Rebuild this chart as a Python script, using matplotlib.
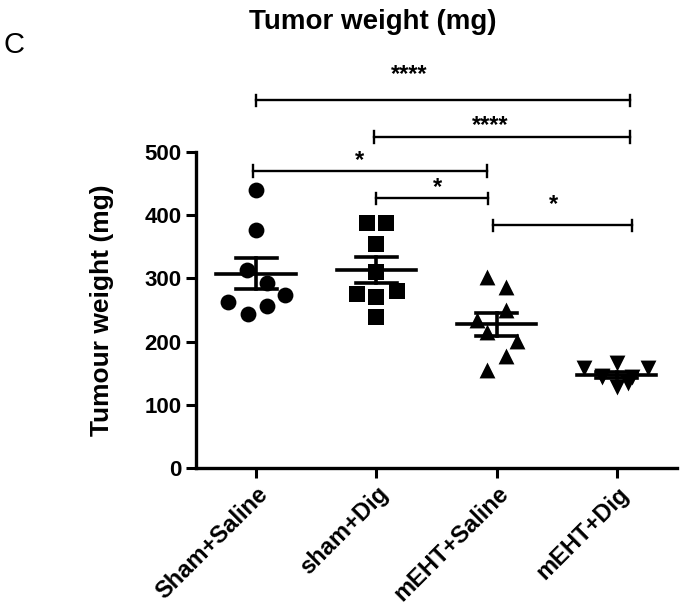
import numpy as np
import matplotlib
matplotlib.use("Agg")
import matplotlib.pyplot as plt
from matplotlib import font_manager

names = set(f.name for f in font_manager.fontManager.ttflist)
print('Liberation Sans Narrow' in names, sorted(n for n in names if 'Liberation' in n or 'Roboto' in n))

plt.rcParams['font.family'] = ['Liberation Sans', 'DejaVu Sans']
plt.rcParams['font.weight'] = 'bold'

groups = ['Sham+Saline', 'sham+Dig', 'mEHT+Saline', 'mEHT+Dig']
markers = ['o', 's', '^', 'v']

# tumour weights (mg) per animal
sham_saline = [440, 377, 313, 293, 263, 274, 244, 256]
sham_dig = [388, 388, 354, 310, 275, 271, 280, 239]
meht_saline = [302, 286, 250, 234, 215, 201, 177, 155]
meht_dig = [158, 166, 158, 144, 128, 134, 144, 145]

# horizontal scatter of the points within each group
jit_1 = [0.0, 0.0, -0.08, 0.09, -0.23, 0.24, -0.07, 0.09]
jit_2 = [-0.08, 0.08, 0.0, 0.0, -0.16, 0.0, 0.17, 0.0]
jit_3 = [-0.08, 0.08, 0.08, -0.16, -0.08, 0.17, 0.08, -0.08]
jit_4 = [-0.27, 0.0, 0.26, -0.12, 0.0, 0.09, 0.13, -0.12]

# significance brackets: (x0, x1, y, label)
brackets = [(0.0, 3.11, 582, '****'),
            (0.98, 3.11, 524, '****'),
            (-0.03, 1.92, 470, '*'),
            (1.0, 1.93, 427, '*'),
            (1.97, 3.13, 384, '*')]
star_pos = [(1.275, 612), (1.95, 532), (0.86, 476), (1.51, 434), (2.47, 407)]

data = [sham_saline, sham_dig, meht_saline, meht_dig]
jits = [jit_1, jit_2, jit_3, jit_4]

fig = plt.figure(figsize=(6.83, 6.06), dpi=100)
ax = fig.add_axes([0.287, 0.228, 0.704, 0.521])

for i in range(4):
	vals = np.array(data[i], dtype=float)
	xs = i + np.array(jits[i])
	ax.scatter(xs, vals, s=130, marker=markers[i], color='black', zorder=3, linewidths=0)
	m = vals.mean()
	sem = vals.std(ddof=1) / np.sqrt(len(vals))
	ax.plot([i - 0.33, i + 0.33], [m, m], color='black', lw=2.6, zorder=4)
	ax.plot([i - 0.17, i + 0.17], [m + sem, m + sem], color='black', lw=2.6, zorder=4)
	ax.plot([i - 0.17, i + 0.17], [m - sem, m - sem], color='black', lw=2.6, zorder=4)
	ax.plot([i, i], [m - sem, m + sem], color='black', lw=2.6, zorder=4)

for (x0, x1, y, lab), (tx, ty) in zip(brackets, star_pos):
	ax.plot([x0, x1], [y, y], color='black', lw=1.7, clip_on=False)
	ax.plot([x0, x0], [y - 9, y + 9], color='black', lw=1.7, clip_on=False)
	ax.plot([x1, x1], [y - 9, y + 9], color='black', lw=1.7, clip_on=False)
	ax.text(tx, ty, lab, ha='center', va='baseline', fontsize=17, fontweight='bold', clip_on=False)

ax.set_xlim(-0.5, 3.5)
ax.set_ylim(0, 500)
ax.set_yticks([0, 100, 200, 300, 400, 500])
ax.set_xticks(range(4))
ax.set_xticklabels(groups, rotation=45, ha='right', rotation_mode='anchor', fontsize=17, fontweight='bold')
ax.tick_params(axis='y', labelsize=16, width=2.2, length=7)
ax.tick_params(axis='x', width=2.2, length=7)
for lab in ax.get_yticklabels():
	lab.set_fontweight('bold')
ax.spines['top'].set_visible(False)
ax.spines['right'].set_visible(False)
ax.spines['left'].set_linewidth(2.4)
ax.spines['bottom'].set_linewidth(2.4)
ax.set_ylabel('Tumour weight (mg)', fontsize=19, fontweight='bold', labelpad=22)

fig.text(0.546, 0.964, 'Tumor weight (mg)', ha='center', va='center', fontsize=20, fontweight='bold')
fig.text(0.021, 0.925, 'C', ha='center', va='center', fontsize=21, fontweight='normal')

fig.savefig('out.png', dpi=100)
